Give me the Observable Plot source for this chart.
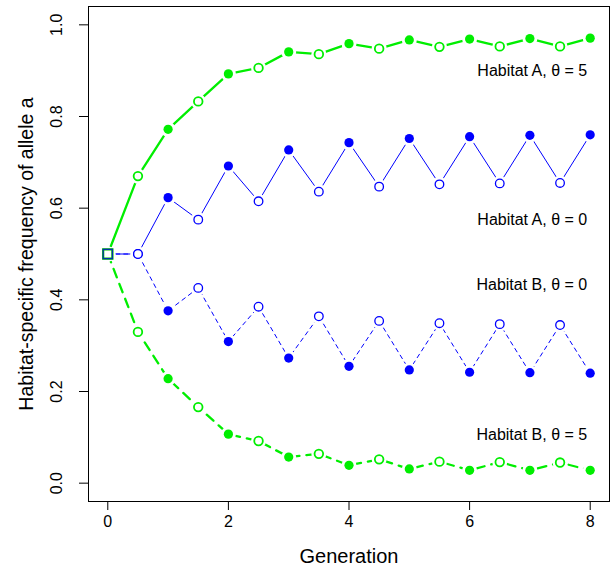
<!DOCTYPE html>
<html>
<head>
<meta charset="utf-8">
<script src="https://cdn.jsdelivr.net/npm/d3@7"></script>
<script src="https://cdn.jsdelivr.net/npm/@observablehq/plot@0.6"></script>
<style>
  html, body { margin: 0; padding: 0; background: white; }
</style>
</head>
<body>
<div id="chart"></div>
<script>
const generations = [0, 0.5, 1, 1.5, 2, 2.5, 3, 3.5, 4, 4.5, 5, 5.5, 6, 6.5, 7, 7.5, 8];
const habitatA_theta5 = [0.5, 0.670, 0.772, 0.833, 0.893, 0.906, 0.941, 0.936, 0.959, 0.948, 0.967, 0.952, 0.969, 0.953, 0.970, 0.953, 0.971];
const habitatA_theta0 = [0.5, 0.500, 0.623, 0.575, 0.692, 0.615, 0.727, 0.636, 0.743, 0.647, 0.752, 0.652, 0.756, 0.654, 0.759, 0.655, 0.760];
const habitatB_theta0 = [0.5, 0.500, 0.376, 0.426, 0.309, 0.385, 0.273, 0.364, 0.255, 0.354, 0.247, 0.349, 0.242, 0.347, 0.241, 0.345, 0.240];
const habitatB_theta5 = [0.5, 0.330, 0.228, 0.166, 0.107, 0.092, 0.057, 0.064, 0.039, 0.052, 0.031, 0.047, 0.028, 0.046, 0.028, 0.045, 0.028];

const seriesNames = ["Habitat A, θ = 5", "Habitat A, θ = 0", "Habitat B, θ = 0", "Habitat B, θ = 5"];
const seriesColors = ["#00ee00", "#0000ff", "#0000ff", "#00ee00"];
const labelY = [0.900, 0.575, 0.432, 0.106];
const xTicks = [0, 2, 4, 6, 8];
const yTicks = [0, 0.2, 0.4, 0.6, 0.8, 1.0];
const xLabel = "Generation";
const yLabel = "Habitat-specific frequency of allele a";

const seriesValues = [habitatA_theta5, habitatA_theta0, habitatB_theta0, habitatB_theta5];
const rows = [];
seriesValues.forEach((vals, s) => {
  vals.forEach((v, i) => {
    rows.push({series: s, gen: generations[i], value: v, kind: i === 0 ? "start" : (Number.isInteger(generations[i]) ? "filled" : "open")});
  });
});
const bySeries = s => rows.filter(d => d.series === s);

const lineStyles = [
  {strokeWidth: 2.3, strokeDasharray: null},
  {strokeWidth: 1, strokeDasharray: null},
  {strokeWidth: 1, strokeDasharray: "4,4"},
  {strokeWidth: 2.3, strokeDasharray: "9,7"}
];

const marks = [];
lineStyles.forEach((st, s) => {
  marks.push(Plot.line(bySeries(s), {x: "gen", y: "value", stroke: seriesColors[s], strokeWidth: st.strokeWidth, strokeDasharray: st.strokeDasharray}));
});
// gaps around points (type = "b")
marks.push(Plot.dot(rows, {x: "gen", y: "value", r: 7.5, fill: "white", stroke: "none"}));
// open circles
marks.push(Plot.dot(rows.filter(d => d.kind === "open"), {x: "gen", y: "value", r: 4.3, fill: "white", stroke: d => seriesColors[d.series], strokeWidth: d => (d.series === 0 || d.series === 3) ? 1.8 : 1.3}));
// filled circles
marks.push(Plot.dot(rows.filter(d => d.kind === "filled"), {x: "gen", y: "value", r: 4.6, fill: d => seriesColors[d.series], stroke: "none"}));
// starting squares
marks.push(Plot.dot(rows.filter(d => d.kind === "start" && d.series === 0), {x: "gen", y: "value", symbol: "square", r: 5.2, fill: "white", stroke: "#00bb00", strokeWidth: 2.2}));
marks.push(Plot.dot(rows.filter(d => d.kind === "start" && d.series === 1), {x: "gen", y: "value", symbol: "square", r: 5.2, fill: "none", stroke: "#0033aa", strokeWidth: 1.2}));

// labels
marks.push(Plot.text(seriesNames, {x: 7.95, y: (d, i) => labelY[i], text: d => d, textAnchor: "end", fontSize: 16, fill: "black"}));

marks.push(Plot.frame({stroke: "black", strokeWidth: 1}));
marks.push(Plot.axisX({ticks: xTicks, tickSize: 9, tickPadding: 5, fontSize: 16, label: null, tickFormat: d => String(d)}));
marks.push(Plot.axisY({ticks: yTicks, tickSize: 9, tickFormat: () => "", label: null}));
marks.push(Plot.text(yTicks, {x: -0.32, y: d => d, dx: -32, rotate: -90, text: d => d.toFixed(1), fontSize: 16, textAnchor: "middle", fill: "black"}));
marks.push(Plot.text([xLabel], {x: 4, y: -0.04, dy: 55, text: d => d, fontSize: 20, fill: "black"}));
marks.push(Plot.text([yLabel], {x: -0.32, y: 0.5, dx: -62, rotate: -90, text: d => d, fontSize: 19.5, fill: "black"}));

const chart = Plot.plot({
  width: 611,
  height: 572,
  marginLeft: 88,
  marginRight: 2,
  marginTop: 6,
  marginBottom: 71,
  x: {domain: [-0.32, 8.32]},
  y: {domain: [-0.04, 1.04]},
  style: {fontFamily: "'Liberation Sans', Arial, Helvetica, sans-serif", background: "white", color: "black"},
  marks
});
document.getElementById("chart").appendChild(chart);
</script>
</body>
</html>
